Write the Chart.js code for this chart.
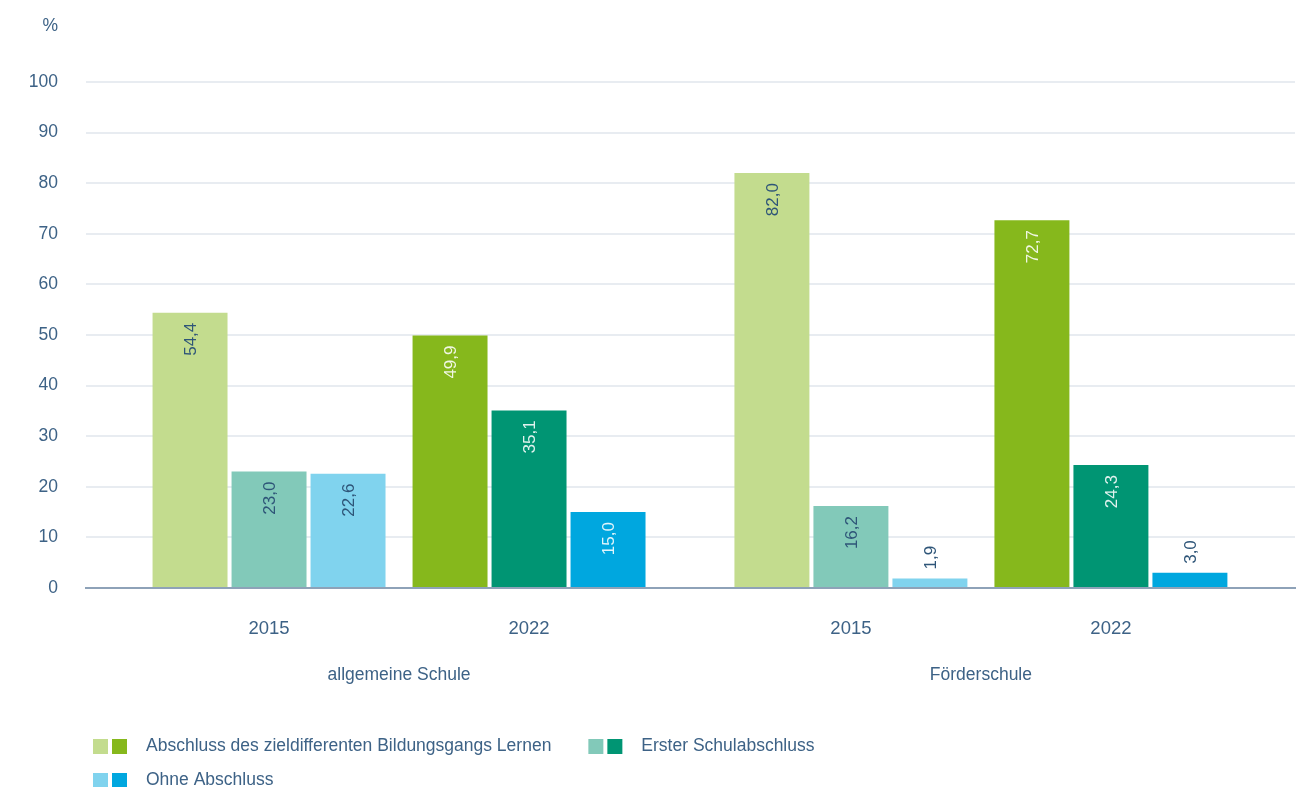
<!DOCTYPE html>
<html lang="de">
<head>
<meta charset="utf-8">
<title>Abschlüsse</title>
<script src="https://cdn.jsdelivr.net/npm/chart.js@4/dist/chart.umd.min.js"></script>
<style>
  html, body { margin: 0; padding: 0; background: #fff; }
  #wrap { width: 1307px; height: 787px; position: relative; }
</style>
</head>
<body>
<div id="wrap"><canvas id="chart"></canvas></div>
<script>
// categories: year per bar group, school type per group
const years = ['2015', '2022', '2015', '2022'];
const schoolOfGroup = [0, 0, 1, 1];
const schools = ['allgemeine Schule', 'Förderschule'];

const seriesNames = [
  'Abschluss des zieldifferenten Bildungsgangs Lernen',
  'Erster Schulabschluss',
  'Ohne Abschluss'
];
const zieldifferent = [54.4, 49.9, 82.0, 72.7];
const ersterAbschluss = [23.0, 35.1, 16.2, 24.3];
const ohneAbschluss = [22.6, 15.0, 1.9, 3.0];

// light = 2015, dark = 2022
const lightColors = ['#c3dc8e', '#82c9b9', '#80d3ee'];
const darkColors = ['#86b81c', '#009573', '#00a7df'];
const textColor = '#3d6286';
const FONT = "'Liberation Sans', Arial, sans-serif";

// extra space between the two school types, in group units
const schoolGap = 0.238;
const xPos = years.map((y, i) => i + schoolOfGroup[i] * schoolGap);
const schoolPos = schools.map((s, k) => {
  const idx = xPos.filter((p, i) => schoolOfGroup[i] === k);
  return (idx[0] + idx[idx.length - 1]) / 2;
});

const fmt = (v) => v.toFixed(1).replace('.', ',');

function makeDataset(label, values, si) {
  return {
    label: label,
    data: values.map((v, i) => ({ x: xPos[i], y: v })),
    backgroundColor: years.map((y) => y === '2015' ? lightColors[si] : darkColors[si]),
    categoryPercentage: 0.9115,
    barPercentage: 0.949
  };
}

const valueLabels = {
  id: 'valueLabels',
  afterDatasetsDraw(chart) {
    const ctx = chart.ctx;
    ctx.save();
    ctx.font = '17px ' + FONT;
    ctx.textBaseline = 'middle';
    chart.data.datasets.forEach((ds, di) => {
      const meta = chart.getDatasetMeta(di);
      meta.data.forEach((bar, i) => {
        const v = ds.data[i].y;
        const txt = fmt(v);
        const w = ctx.measureText(txt).width;
        const h = bar.base - bar.y;
        ctx.save();
        if (h < w + 22) {
          ctx.translate(bar.x + 1, bar.y - 9);
          ctx.rotate(-Math.PI / 2);
          ctx.textAlign = 'left';
          ctx.fillStyle = '#2e5578';
        } else {
          ctx.translate(bar.x + 1, bar.y + 10);
          ctx.rotate(-Math.PI / 2);
          ctx.textAlign = 'right';
          ctx.fillStyle = years[i] === '2015' ? '#2e5578' : 'rgba(255,255,255,0.88)';
        }
        ctx.fillText(txt, 0, 0);
        ctx.restore();
      });
    });
    ctx.restore();
  }
};

const extras = {
  id: 'extras',
  afterDraw(chart) {
    const ctx = chart.ctx;
    const area = chart.chartArea;
    ctx.save();
    ctx.font = '17.5px ' + FONT;
    ctx.fillStyle = textColor;
    ctx.textBaseline = 'middle';
    ctx.textAlign = 'right';
    ctx.fillText('%', area.left - 28, 26);

    // legend: two swatches (2015 / 2022) per series
    ctx.textAlign = 'left';
    const rows = [chart.height - 41, chart.height - 7];
    const startX = area.left + 7;
    let x = startX, row = 0;
    seriesNames.forEach((name, si) => {
      if (si === 2) { row = 1; x = startX; }
      const y = rows[row];
      ctx.fillStyle = lightColors[si];
      ctx.fillRect(x, y - 7, 15, 15);
      ctx.fillStyle = darkColors[si];
      ctx.fillRect(x + 19, y - 7, 15, 15);
      ctx.fillStyle = textColor;
      ctx.fillText(name, x + 53, y);
      x += 53 + ctx.measureText(name).width + 37;
    });
    ctx.restore();
  }
};

const xMin = -0.704, xMax = 3.946;

new Chart(document.getElementById('chart'), {
  type: 'bar',
  data: {
    datasets: [
      makeDataset(seriesNames[0], zieldifferent, 0),
      makeDataset(seriesNames[1], ersterAbschluss, 1),
      makeDataset(seriesNames[2], ohneAbschluss, 2)
    ]
  },
  plugins: [valueLabels, extras],
  options: {
    responsive: true,
    maintainAspectRatio: false,
    animation: false,
    layout: {
      padding: { top: 82, right: 12, bottom: 99, left: 0 }
    },
    plugins: {
      legend: { display: false },
      tooltip: { enabled: false }
    },
    scales: {
      x: {
        type: 'linear',
        min: xMin,
        max: xMax,
        offset: false,
        weight: 0,
        afterBuildTicks: (scale) => { scale.ticks = xPos.map((p) => ({ value: p })); },
        afterFit: (scale) => { scale.height = 60; },
        grid: { display: false, drawTicks: false },
        border: { display: true, color: '#8ea2b8', width: 2 },
        ticks: {
          autoSkip: false,
          maxRotation: 0,
          padding: 30,
          color: textColor,
          font: { size: 18.5, family: FONT },
          callback: (v) => {
            const i = xPos.findIndex((p) => Math.abs(p - v) < 1e-6);
            return i >= 0 ? years[i] : '';
          }
        }
      },
      x2: {
        type: 'linear',
        position: 'bottom',
        min: xMin,
        max: xMax,
        offset: false,
        weight: 1,
        afterBuildTicks: (scale) => { scale.ticks = schoolPos.map((p) => ({ value: p })); },
        afterFit: (scale) => { scale.height = 40; },
        grid: { display: false, drawTicks: false },
        border: { display: false },
        ticks: {
          autoSkip: false,
          maxRotation: 0,
          padding: 16.5,
          color: textColor,
          font: { size: 17.5, family: FONT },
          callback: (v) => {
            const k = schoolPos.findIndex((p) => Math.abs(p - v) < 1e-6);
            return k >= 0 ? schools[k] : '';
          }
        }
      },
      y: {
        min: 0,
        max: 100,
        afterFit: (scale) => { scale.width = 86; },
        grid: { color: '#e8ecf1', lineWidth: 2, drawTicks: false },
        border: { display: false },
        ticks: {
          stepSize: 10,
          padding: 28,
          color: textColor,
          font: { size: 17.5, family: FONT }
        }
      }
    }
  }
});
</script>
</body>
</html>
